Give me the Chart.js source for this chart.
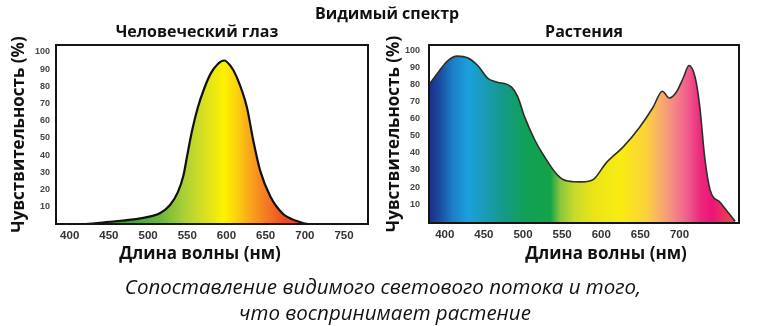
<!DOCTYPE html>
<html lang="ru">
<head>
<meta charset="utf-8">
<script src="https://cdn.jsdelivr.net/npm/chart.js@4"></script>
<style>
  body { margin: 0; background: #fff; }
  #wrap { position: relative; width: 768px; height: 326px; overflow: hidden; font-family: "Open Sans", "DejaVu Sans", sans-serif; color: #111; }
  canvas { position: absolute; top: 0; }
  .lbl { position: absolute; transform: translate(-50%, -50%); white-space: nowrap; font-weight: bold; }
  .cap { position: absolute; transform: translate(-50%, -50%); white-space: nowrap; font-style: italic; font-size: 20.5px; }
</style>
</head>
<body>
<div id="wrap">
  <canvas id="eyeChart" width="384" height="270" style="left:0"></canvas>
  <canvas id="plantChart" width="384" height="270" style="left:384px"></canvas>
  <div class="lbl" style="left:387px; top:13px; font-size:16px">Видимый спектр</div>
  <div class="lbl" style="left:197px; top:31px; font-size:16px">Человеческий глаз</div>
  <div class="lbl" style="left:584px; top:31px; font-size:16px">Растения</div>
  <div class="lbl" style="left:200px; top:252px; font-size:17px">Длина волны (нм)</div>
  <div class="lbl" style="left:606px; top:252px; font-size:17px">Длина волны (нм)</div>
  <div class="cap" style="left:383px; top:286px">Сопоставление видимого светового потока и того,</div>
  <div class="cap" style="left:385px; top:312px">что воспринимает растение</div>
</div>
<script>
// Sensitivity of the human eye (wavelength nm -> %)
const eyeWavelengths = [383, 420, 451, 490, 515, 528, 538, 545, 550, 556, 563, 571, 580, 589, 597, 605, 613, 626, 634, 643, 656, 672, 690, 705, 740, 781];
const eyeValues      = [0, 0, 1.3, 3.3, 6.2, 11, 18.5, 28, 40, 54, 67, 78, 87.5, 93, 95, 92, 85.5, 68, 49, 31, 16, 6, 1.7, 0, 0, 0];

// Sensitivity of plants (wavelength nm -> %)
const plantWavelengths = [380, 390, 403, 416, 429, 442, 455, 465, 485, 493, 502, 515, 527, 544, 557, 575, 590, 606, 628, 649, 666, 678, 687, 696, 705, 712, 720, 726, 732, 739, 752, 765, 771];
const plantValues      = [80, 86, 93.5, 96.5, 95.5, 91, 83.5, 81.5, 78.5, 73, 61, 47.5, 38, 27, 23.5, 23, 24.5, 34, 43.5, 55, 66.5, 76, 72, 75.5, 84, 91, 84, 66.5, 38, 18.5, 11, 3.5, 0];

const yTicks = [10, 20, 30, 40, 50, 60, 70, 80, 90, 100];
const eyeXTicks = [400, 450, 500, 550, 600, 650, 700, 750];
const plantXTicks = [400, 450, 500, 550, 600, 650, 700];

// gradient colour stops, by wavelength
const eyeStops = [
  [383, '#2f8f3a'], [470, '#3f9e35'], [515, '#6cb33e'], [545, '#a9cf36'], [572, '#d9e020'],
  [597, '#fff100'], [613, '#fcd20c'], [630, '#f8a51c'], [650, '#f47c22'], [675, '#ee4a26'], [781, '#e52a20']
];
const plantStops = [
  [380, '#1d2d86'], [395, '#1a4fa3'], [410, '#1c7fc6'], [430, '#1aa0dd'], [450, '#1b9bb8'],
  [475, '#139a8a'], [500, '#10a05a'], [535, '#15a348'], [548, '#8cc63e'], [565, '#c6da2c'],
  [590, '#ebe417'], [625, '#f9ec12'], [657, '#fcd23a'], [674, '#f8b168'], [691, '#f48b84'],
  [709, '#f0608e'], [726, '#ec2a7e'], [742, '#ec1578'], [764, '#ee3e50'], [776, '#f04a3a']
];

function spectrumFill(stops) {
  return ctx => {
    const chart = ctx.chart;
    const area = chart.chartArea;
    if (!area) return null;
    const x = chart.scales.x;
    const g = chart.ctx.createLinearGradient(area.left, 0, area.right, 0);
    stops.forEach(([nm, color]) => {
      const p = (x.getPixelForValue(nm) - area.left) / (area.right - area.left);
      g.addColorStop(Math.min(1, Math.max(0, p)), color);
    });
    return g;
  };
}

// black frame round the plot area
const framePlugin = {
  id: 'frame',
  afterDatasetsDraw(chart) {
    const {ctx, chartArea: a} = chart;
    ctx.save();
    ctx.strokeStyle = '#151515';
    ctx.lineWidth = 2;
    ctx.strokeRect(a.left, a.top, a.right - a.left, a.bottom - a.top);
    ctx.restore();
  }
};

function makeChart(id, cfg) {
  const points = cfg.xs.map((x, i) => ({x: x, y: cfg.ys[i]}));
  return new Chart(document.getElementById(id), {
    type: 'line',
    data: {
      datasets: [{
        data: points,
        borderColor: cfg.lineColor,
        borderWidth: cfg.lineWidth,
        backgroundColor: spectrumFill(cfg.stops),
        fill: 'start',
        pointRadius: 0,
        cubicInterpolationMode: 'monotone'
      }]
    },
    options: {
      responsive: false,
      animation: false,
      devicePixelRatio: 1,
      layout: { padding: { top: 45, right: cfg.padRight, bottom: 0, left: 0 } },
      plugins: { legend: { display: false }, tooltip: { enabled: false } },
      scales: {
        x: {
          type: 'linear',
          min: cfg.xMin,
          max: cfg.xMax,
          grid: { display: false, drawTicks: false },
          border: { display: false },
          afterBuildTicks: s => { s.ticks = cfg.xTicks.map(v => ({value: v})); },
          afterFit: s => { s.height = cfg.xHeight; },
          ticks: {
            padding: 5,
            color: '#333',
            font: { family: 'Liberation Sans, Arial, sans-serif', weight: 'bold', size: 11.5 }
          }
        },
        y: {
          min: cfg.yMin,
          max: cfg.yMax,
          grid: { display: false, drawTicks: false },
          border: { display: false },
          afterBuildTicks: s => { s.ticks = yTicks.map(v => ({value: v})); },
          afterFit: s => { s.width = cfg.yWidth; },
          ticks: {
            padding: cfg.yPad,
            color: '#444',
            font: { family: 'Liberation Sans, Arial, sans-serif', weight: 'bold', size: 9 }
          },
          title: {
            display: true,
            text: 'Чувствительность (%)',
            color: '#111',
            padding: { top: cfg.titlePad, bottom: 0 },
            font: { family: 'Open Sans, DejaVu Sans, sans-serif', weight: 'bold', size: 17 }
          }
        }
      }
    },
    plugins: [framePlugin]
  });
}

makeChart('eyeChart', {
  xs: eyeWavelengths, ys: eyeValues, stops: eyeStops, xTicks: eyeXTicks,
  xMin: 382.5, xMax: 780.6, yMin: 0, yMax: 104,
  lineColor: '#111', lineWidth: 2.2,
  padRight: 16, xHeight: 46, yWidth: 56, yPad: 6, titlePad: 9
});

makeChart('plantChart', {
  xs: plantWavelengths, ys: plantValues, stops: plantStops, xTicks: plantXTicks,
  xMin: 379.8, xMax: 776, yMin: -1, yMax: 103,
  lineColor: '#2e2e2a', lineWidth: 1.6,
  padRight: 29, xHeight: 47, yWidth: 45, yPad: 9, titlePad: 0
});
</script>
</body>
</html>
